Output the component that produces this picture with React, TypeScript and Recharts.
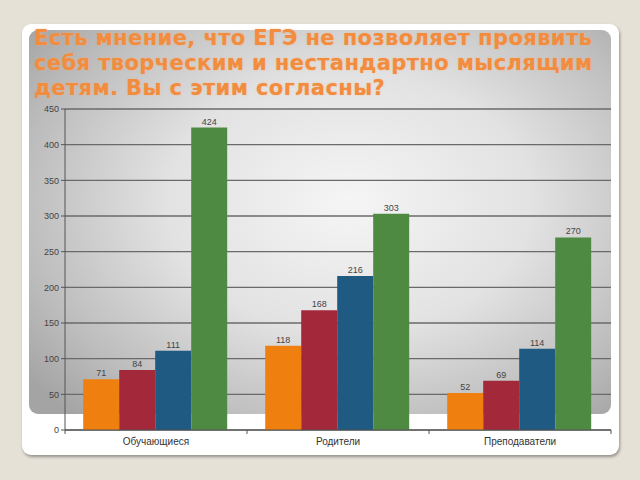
import React from 'react';
import { BarChart, Bar, XAxis, YAxis, CartesianGrid, LabelList } from 'recharts';

const categories = ['Обучающиеся', 'Родители', 'Преподаватели'];
const series1 = [71, 118, 52];
const series2 = [84, 168, 69];
const series3 = [111, 216, 114];
const series4 = [424, 303, 270];
const yTicks = [0, 50, 100, 150, 200, 250, 300, 350, 400, 450];

const data = categories.map((name, i) => ({
  name,
  s1: series1[i],
  s2: series2[i],
  s3: series3[i],
  s4: series4[i],
}));

const PLOT_LEFT = 65;
const PLOT_RIGHT = 611;
const BAND = (PLOT_RIGHT - PLOT_LEFT) / categories.length;

// category label plus small separators at the band edges
const CategoryTick = (props: any) => {
  const { x, y, payload, index } = props;
  const half = BAND / 2;
  return (
    <g>
      <line x1={x - half} y1={y - 8} x2={x - half} y2={y - 4} stroke="#555" />
      {index === categories.length - 1 && (
        <line x1={x + half} y1={y - 8} x2={x + half} y2={y - 4} stroke="#555" />
      )}
      <text
        x={x}
        y={y + 7}
        textAnchor="middle"
        fontSize={10}
        fill="#333"
        fontFamily="Liberation Sans, Arial, sans-serif"
      >
        {payload.value}
      </text>
    </g>
  );
};

const labelStyle = { fontSize: 9, fill: '#444', fontFamily: 'Liberation Sans, Arial, sans-serif' };

export default function App() {
  return (
    <div
      style={{
        position: 'fixed',
        left: 0,
        top: 0,
        width: 640,
        height: 480,
        background: '#e6e1d7',
        overflow: 'hidden',
      }}
    >
      <div
        style={{
          position: 'absolute',
          left: 22,
          top: 24,
          width: 597,
          height: 431,
          background: '#ffffff',
          borderRadius: 9,
          boxShadow: '1px 2px 3px rgba(0,0,0,0.35)',
        }}
      />
      <div
        style={{
          position: 'absolute',
          left: 29,
          top: 30,
          width: 582,
          height: 384,
          borderRadius: 9,
          background:
            'radial-gradient(ellipse 70% 75% at 55% 45%, #f5f5f5 0%, #e2e2e2 45%, #bdbdbd 80%, #a4a4a4 100%)',
        }}
      />
      <div
        style={{
          position: 'absolute',
          left: 34,
          top: 26,
          width: 590,
          whiteSpace: 'nowrap',
          color: '#f28c3f',
          fontFamily: 'DejaVu Sans, Verdana, sans-serif',
          fontWeight: 'bold',
          fontSize: 21,
          letterSpacing: 0.4,
          lineHeight: '25px',
          textShadow: '0 0 2px rgba(255,170,100,0.6)',
        }}
      >
        Есть мнение, что ЕГЭ не позволяет проявить
        <br />
        себя творческим и нестандартно мыслящим
        <br />
        детям. Вы с этим согласны?
      </div>
      <div style={{ position: 'absolute', left: 0, top: 0 }}>
        <BarChart
          width={640}
          height={480}
          data={data}
          margin={{ top: 109, right: 640 - PLOT_RIGHT, left: PLOT_LEFT - 40, bottom: 20 }}
          barCategoryGap="10%"
          barGap={0}
        >
          <CartesianGrid vertical={false} stroke="#6a6a6a" strokeWidth={1.3} />
          <XAxis
            dataKey="name"
            axisLine={{ stroke: '#555' }}
            tickLine={false}
            tick={<CategoryTick />}
            height={30}
            interval={0}
          />
          <YAxis
            width={40}
            domain={[0, 450]}
            ticks={yTicks}
            interval={0}
            axisLine={{ stroke: '#555' }}
            tickLine={{ stroke: '#555' }}
            tickSize={4}
            tick={{ fontSize: 9, fill: '#444', fontFamily: 'Liberation Sans, Arial, sans-serif' }}
          />
          <Bar dataKey="s1" fill="#ef8010" isAnimationActive={false}>
            <LabelList dataKey="s1" position="top" offset={3} style={labelStyle} />
          </Bar>
          <Bar dataKey="s2" fill="#a3283a" isAnimationActive={false}>
            <LabelList dataKey="s2" position="top" offset={3} style={labelStyle} />
          </Bar>
          <Bar dataKey="s3" fill="#1f5a82" isAnimationActive={false}>
            <LabelList dataKey="s3" position="top" offset={3} style={labelStyle} />
          </Bar>
          <Bar dataKey="s4" fill="#4f8a42" isAnimationActive={false}>
            <LabelList dataKey="s4" position="top" offset={3} style={labelStyle} />
          </Bar>
        </BarChart>
      </div>
    </div>
  );
}
